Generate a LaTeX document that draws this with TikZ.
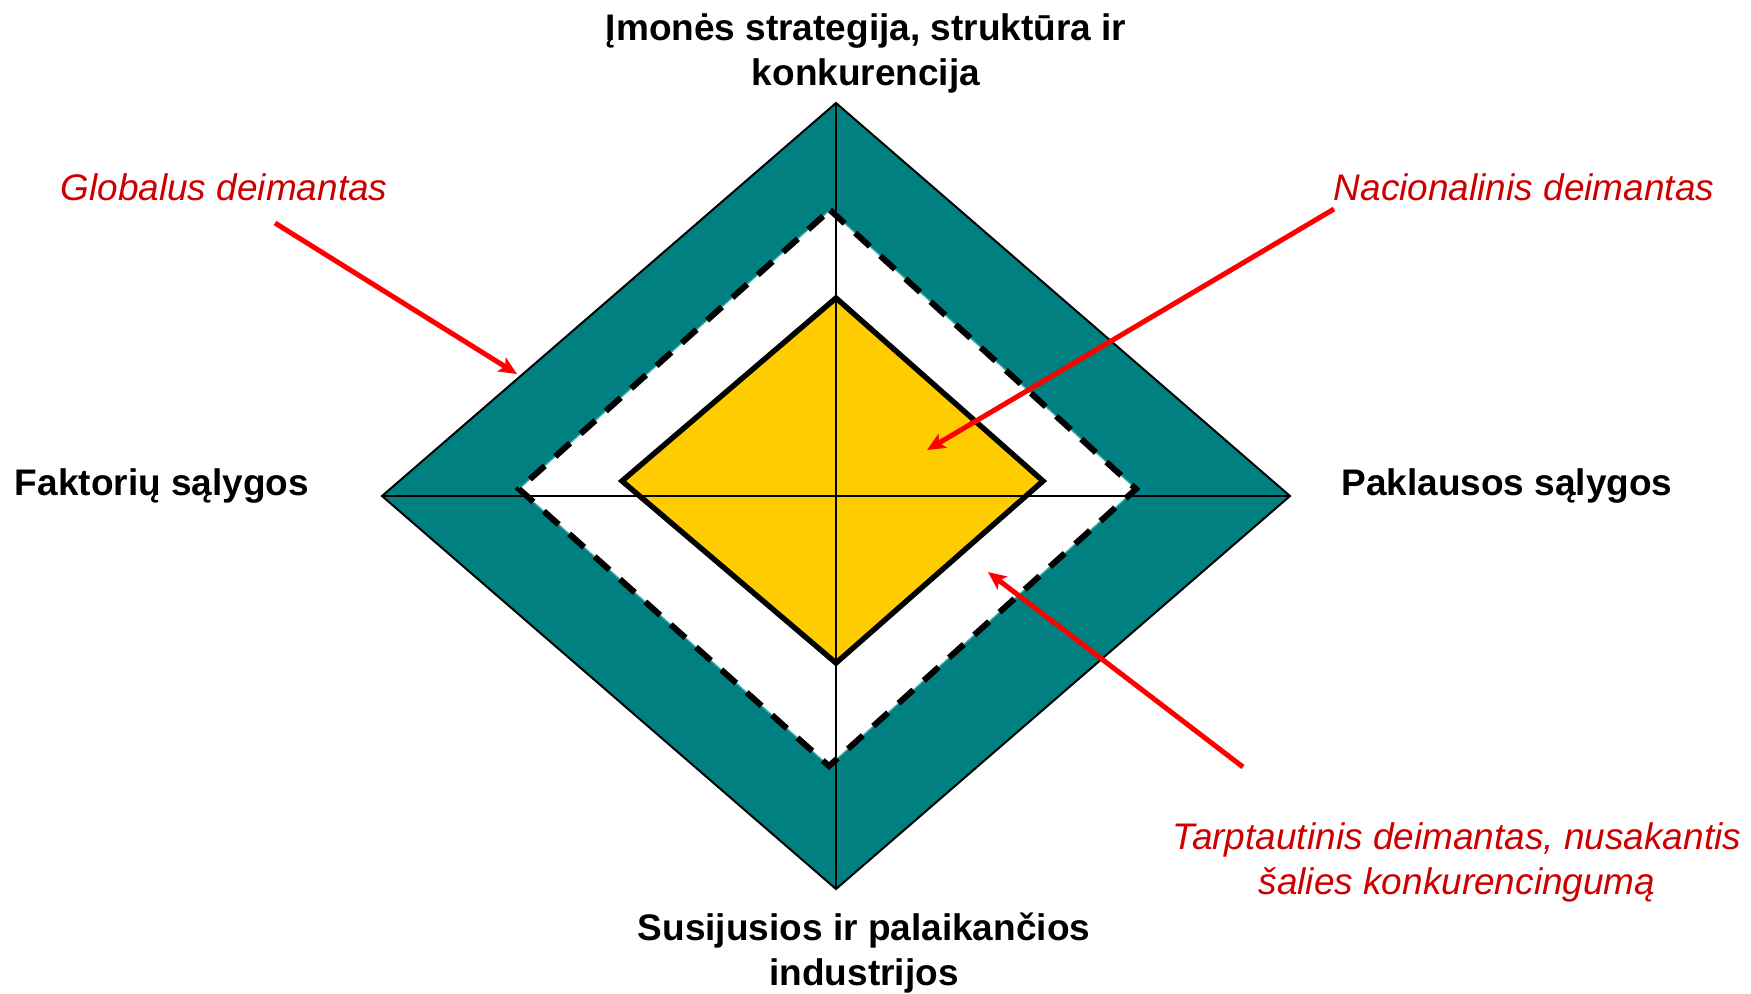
\documentclass[tikz,border=0pt]{standalone}
\usepackage{fontspec}
\setmainfont{Liberation Sans}
\usetikzlibrary{arrows.meta}
\definecolor{diamteal}{RGB}{0,128,128}
\definecolor{diamedge}{RGB}{70,175,175}
\definecolor{diamyellow}{RGB}{255,204,0}
\definecolor{notered}{RGB}{204,0,0}
\definecolor{pointred}{RGB}{255,0,0}

\begin{document}
\begin{tikzpicture}[x=0.5pt,y=0.5pt,yscale=-1,xscale=1,
	axis/.style={font=\bfseries\fontsize{18.5pt}{22.5pt}\selectfont, align=center, inner sep=0pt, anchor=base},
	note/.style={font=\itshape\fontsize{18.5pt}{22.5pt}\selectfont, text=notered, align=center, inner sep=0pt, anchor=base},
	pointer/.style={draw=pointred, line width=2.5pt, -{Stealth[length=9pt,width=8pt,inset=2pt]}}]
	\useasboundingbox (0,0) rectangle (1751,993);
	% global diamond corners
	\coordinate (gt) at (836,103);
	\coordinate (gr) at (1290,496);
	\coordinate (gb) at (836,889);
	\coordinate (gl) at (382,496);
	% international diamond corners
	\coordinate (it) at (830,210);
	\coordinate (ir) at (1136,489);
	\coordinate (ib) at (829,766);
	\coordinate (il) at (519,489);
	% national diamond corners
	\coordinate (nt) at (836,298);
	\coordinate (nr) at (1043,481);
	\coordinate (nb) at (836,663);
	\coordinate (nl) at (622,481);
	\draw  [fill=diamteal, line width=1pt] (gt) -- (gr) -- (gb) -- (gl) -- cycle ;
	\draw  [draw=diamedge, fill=white, line width=0.6pt] (it) -- (ir) -- (ib) -- (il) -- cycle ;
	\draw  [line width=3pt, dash pattern=on 10pt off 7pt] (it) -- (ir) -- (ib) -- (il) -- cycle ;
	\draw  [fill=diamyellow, line width=2.7pt] (nt) -- (nr) -- (nb) -- (nl) -- cycle ;
	\draw  [line width=1pt] (gt) -- (gb) ;
	\draw  [line width=1pt] (gl) -- (gr) ;
	% labels (two-line labels sit on their last baseline)
	\node [axis] (strat) at (866,85) {Įmonės strategija, struktūra ir\\konkurencija};
	\node [axis] (fakt) at (162,495) {Faktorių sąlygos};
	\node [axis] (pakl) at (1507,495) {Paklausos sąlygos};
	\node [axis] (indu) at (864,985) {Susijusios ir palaikančios\\industrijos};
	\node [note] (glob) at (224,200) {Globalus deimantas};
	\node [note] (nac) at (1524,200) {Nacionalinis deimantas};
	\node [note] (tarp) at (1457,894) {Tarptautinis deimantas, nusakantis\\šalies konkurencingumą};
	% pointers
	\coordinate (globtail) at (275,223);
	\coordinate (globtip) at (517,374);
	\coordinate (nactail) at (1334,209);
	\coordinate (nactip) at (927,450);
	\coordinate (tarptail) at (1243,767);
	\coordinate (tarptip) at (988,572);
	\draw [pointer] (globtail) -- (globtip) ;
	\draw [pointer] (nactail) -- (nactip) ;
	\draw [pointer] (tarptail) -- (tarptip) ;
\end{tikzpicture}
\end{document}
